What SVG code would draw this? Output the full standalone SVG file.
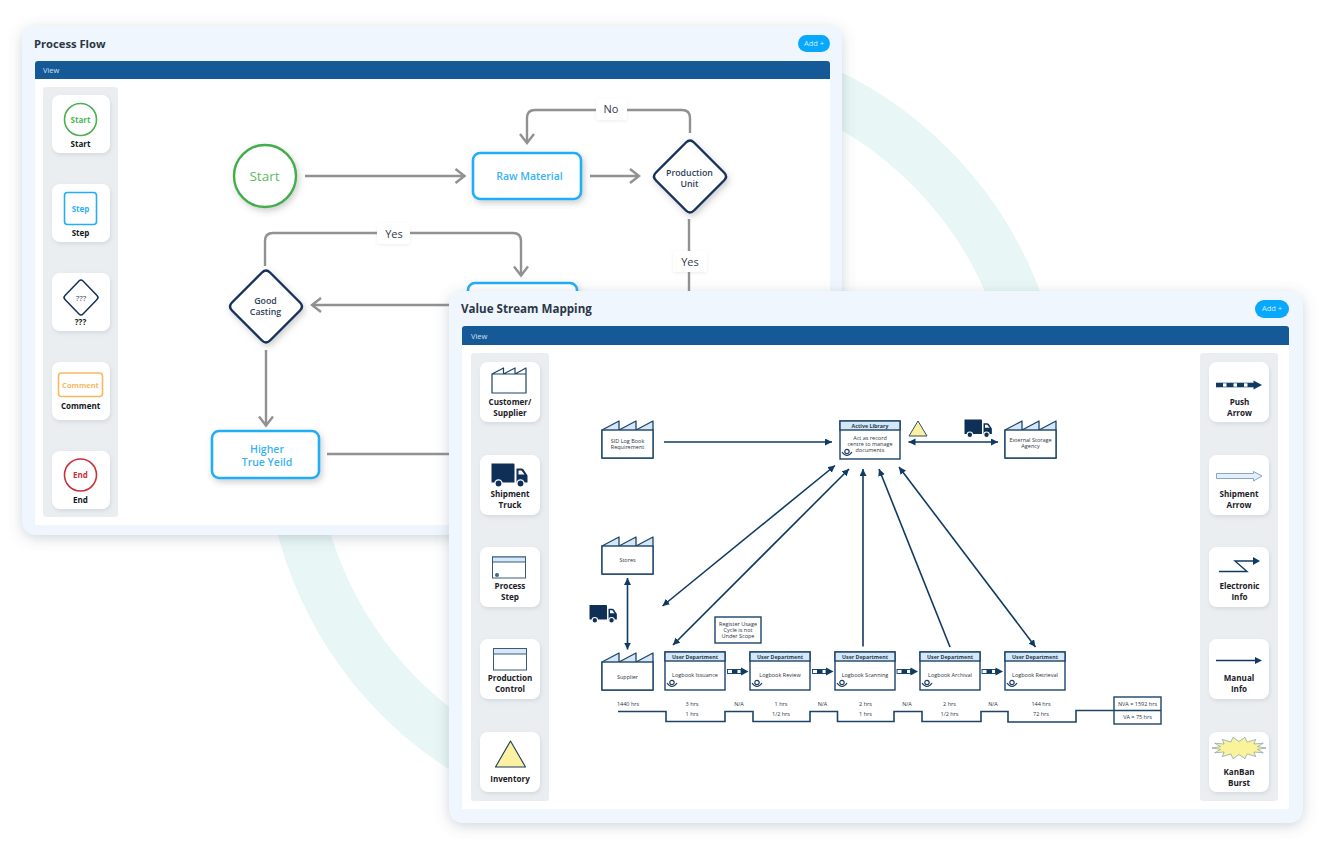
<svg xmlns="http://www.w3.org/2000/svg" width="1324" height="850" viewBox="0 0 1324 850">
<defs>
<clipPath id="ringClip"><rect x="0" y="0" width="1324" height="815"/></clipPath>
<filter id="panelShadow" x="-10%" y="-10%" width="120%" height="120%"><feDropShadow dx="0" dy="3" stdDeviation="7" flood-color="#5a6a7a" flood-opacity="0.28"/></filter>
<filter id="cardShadow" x="-20%" y="-20%" width="140%" height="140%"><feDropShadow dx="1" dy="2" stdDeviation="2" flood-color="#8a9aaa" flood-opacity="0.25"/></filter>
<filter id="labelShadow" x="-20%" y="-20%" width="140%" height="140%"><feDropShadow dx="0" dy="1" stdDeviation="1.500" flood-color="#8a9aaa" flood-opacity="0.18"/></filter>
<filter id="nodeShadow" x="-20%" y="-20%" width="140%" height="140%"><feDropShadow dx="2" dy="3" stdDeviation="3" flood-color="#555" flood-opacity="0.28"/></filter>
<marker id="open" markerWidth="16" markerHeight="18" refX="13" refY="9" orient="auto" markerUnits="userSpaceOnUse"><path d="M4 2 L13 9 L4 16" fill="none" stroke="#919191" stroke-width="2.400"/></marker>
<marker id="solid" markerWidth="8" markerHeight="8" refX="7" refY="3.500" orient="auto-start-reverse" markerUnits="userSpaceOnUse"><path d="M0 0 L7 3.500 L0 7 Z" fill="#0f3a63"/></marker>
<g id="truck"><path d="M0 0H22Q23 0 23 1V19H0Z M25 5H30Q31 5 32 6L36 12V19H25Z" fill="#0f3056"/><circle cx="7" cy="20" r="3.600" fill="#0f3056" stroke="#fff" stroke-width="1.400"/><circle cx="29" cy="20" r="3.600" fill="#0f3056" stroke="#fff" stroke-width="1.400"/><path d="M27 7H30L33 11H27Z" fill="#fff"/></g>
<g id="eye"><circle cx="5" cy="2.500" r="2.200" fill="none" stroke="#1a3c5e" stroke-width="1.200"/><path d="M0 3Q5 10 10 3" fill="none" stroke="#1a3c5e" stroke-width="1.200"/></g>
<g id="pusharrow"><rect x="0" y="-2" width="13.500" height="4" fill="#fff" stroke="#0f3a63" stroke-width="0.900"/><rect x="4.500" y="-2" width="5.500" height="4" fill="#0f3a63"/><path d="M13.500 -4V4L21 0Z" fill="#0f3a63"/></g>
</defs>
<style>
text{font-family:"Open Sans","Noto Sans","Liberation Sans",sans-serif;text-anchor:middle}
.panel{fill:#eff6fd}
.bar{fill:#155a96}
.side{fill:#ebeef1}
.card{fill:#fff;filter:url(#cardShadow)}
.title{font-weight:700;fill:#2c3645;text-anchor:start}
.view{font-size:7.5px;fill:#cfe0ef;text-anchor:start}
.lab{font-size:8px;font-weight:700;fill:#101820}
.cl{font-size:8.1px;font-weight:700;fill:#1a2028}
.addb{fill:#08a8fc}
.addt{font-size:7.5px;fill:#cdeeff}
.conn{fill:none;stroke:#919191;stroke-width:2.400}
.step{fill:#fff;stroke:#22aef5;stroke-width:2.600;filter:url(#nodeShadow)}
.dia{fill:#fff;stroke:#12305a;stroke-width:2.400;stroke-linejoin:round;filter:url(#nodeShadow)}
.nt{fill:#2f4058;font-weight:600}
.bt{fill:#38b2f5;font-weight:600}
.lb{fill:#fff;filter:url(#labelShadow)}
.lbt{font-size:11px;font-weight:500;fill:#2f3a4c}
.ln{fill:none;stroke:#0f3a63;stroke-width:1.600}
.box{fill:#fff;stroke:#1d4468;stroke-width:1.400}
.hd{fill:#d5e8fa;stroke:#1d4468;stroke-width:1.400}
.fac{fill:#d5e8fa;stroke:#1d4468;stroke-width:1.300;stroke-linejoin:round}
.t5{font-size:5.500px;font-weight:500;fill:#2b3440}
.th{font-size:5.300px;font-weight:700;fill:#2a3a4c}
.tl{fill:none;stroke:#1d4468;stroke-width:1.600}
.pi{font-size:8px;font-weight:700}
</style>
<rect width="1324" height="850" fill="#fff"/>
<g id="ring" clip-path="url(#ringClip)"><circle cx="665" cy="432" r="375" fill="none" stroke="#e8f6f5" stroke-width="51"/></g>

<g id="process-flow-panel">
<rect class="panel" x="22" y="26" width="820" height="509" rx="14" filter="url(#panelShadow)"/>
<text class="title" x="34" y="48" font-size="11.200">Process Flow</text>
<rect class="addb" x="798" y="35" width="32" height="17" rx="8.500"/><text class="addt" x="814" y="46">Add  +</text>
<rect x="35" y="79" width="795" height="446" fill="#fff"/>
<path class="bar" d="M35 79V64Q35 61 38 61H827Q830 61 830 64V79Z"/>
<text class="view" x="43" y="73">View</text>
<rect class="side" x="43" y="87" width="75" height="430" rx="3"/>
</g>

<g id="pf-palette">
<g id="pal-start"><rect class="card" x="52" y="95" width="58" height="58" rx="8"/><circle cx="80.500" cy="119.500" r="16" fill="#fff" stroke="#4caf50" stroke-width="1.600"/><text class="pi" x="80.500" y="122.500" fill="#4cb85a">Start</text><text class="lab" x="80.500" y="147">Start</text></g>
<g id="pal-step"><rect class="card" x="52" y="184" width="58" height="58" rx="8"/><rect x="64.500" y="192.500" width="32" height="32" rx="3" fill="#fff" stroke="#22aef5" stroke-width="1.600"/><text class="pi" x="80.500" y="212" fill="#30b0f5">Step</text><text class="lab" x="80.500" y="236">Step</text></g>
<g id="pal-dec"><rect class="card" x="52" y="273" width="58" height="58" rx="8"/><path d="M79 281Q81 279 83 281L97 295.500Q99 297.500 97 299.500L83 314Q81 316 79 314L65 299.500Q63 297.500 65 295.500Z" fill="#fff" stroke="#12305a" stroke-width="1.500" stroke-linejoin="round"/><text x="81" y="300.500" font-size="8" fill="#2f4058">???</text><text class="lab" x="80.500" y="325">???</text></g>
<g id="pal-comment"><rect class="card" x="52" y="362" width="58" height="58" rx="8"/><rect x="58.500" y="373" width="44" height="23.500" rx="3" fill="#fff" stroke="#f5b95f" stroke-width="1.600"/><text x="80.500" y="387.500" font-size="7.500" font-weight="700" fill="#f5b95f">Comment</text><text class="lab" x="80.500" y="409">Comment</text></g>
<g id="pal-end"><rect class="card" x="52" y="451" width="58" height="58" rx="8"/><circle cx="80.500" cy="475" r="16" fill="#fff" stroke="#c8303c" stroke-width="1.600"/><text class="pi" x="80.500" y="478" fill="#c8303c">End</text><text class="lab" x="80.500" y="503">End</text></g>
</g>

<g id="pf-connectors">
<path class="conn" d="M305 176H464.500" marker-end="url(#open)"/>
<path class="conn" d="M590 176H639" marker-end="url(#open)"/>
<path class="conn" d="M690 133V118Q690 110 682 110H535Q527 110 527 118V143" marker-end="url(#open)"/>
<path class="conn" d="M689 219V300"/>
<path class="conn" d="M265 266V241Q265 233 273 233H513Q521 233 521 241V275.500" marker-end="url(#open)"/>
<path class="conn" d="M460 305H312" marker-end="url(#open)"/>
<path class="conn" d="M266 350V425.500" marker-end="url(#open)"/>
<path class="conn" d="M327 454H460"/>
</g>

<g id="pf-labels">
<g id="lb-no"><rect class="lb" x="596" y="99" width="31" height="21" rx="3"/><text class="lbt" x="611" y="113">No</text></g>
<g id="lb-yes1"><rect class="lb" x="673" y="251" width="34" height="21" rx="3"/><text class="lbt" x="690" y="265.500">Yes</text></g>
<g id="lb-yes2"><rect class="lb" x="377" y="223" width="33" height="21" rx="3"/><text class="lbt" x="394" y="237.500">Yes</text></g>
</g>

<g id="pf-start"><circle cx="265" cy="176" r="31" fill="#fff" stroke="#43ad4b" stroke-width="2.400" filter="url(#nodeShadow)"/><text x="264.500" y="181" font-size="13.500" font-weight="500" fill="#5cbb63">Start</text></g>
<g id="pf-raw"><rect class="step" x="473" y="153" width="108" height="46" rx="7"/><text class="bt" x="529.500" y="180" font-size="10.500">Raw Material</text></g>
<g id="pf-prod"><path class="dia" d="M686 142.500Q690 138.500 694 142.500L724 172.500Q728 176.500 724 180.500L694 210.500Q690 214.500 686 210.500L656 180.500Q652 176.500 656 172.500Z"/><text class="nt" font-size="8.800" x="689.500" y="176">Production</text><text class="nt" font-size="8.800" x="689.500" y="186.500">Unit</text></g>
<g id="pf-casting"><path class="dia" d="M262 272.500Q266 268.500 270 272.500L300 302.500Q304 306.500 300 310.500L270 340.500Q266 344.500 262 340.500L232 310.500Q228 306.500 232 302.500Z"/><text class="nt" font-size="8.800" x="265.500" y="304">Good</text><text class="nt" font-size="8.800" x="265.500" y="314.500">Casting</text></g>
<g id="pf-hidden"><rect class="step" x="468" y="283" width="109" height="46" rx="7"/></g>
<g id="pf-higher"><rect class="step" x="212" y="431" width="107" height="47" rx="7"/><text class="bt" x="267" y="453" font-size="10.500">Higher</text><text class="bt" x="267" y="465.500" font-size="10.500">True Yeild</text></g>

<g id="vsm-panel">
<rect class="panel" x="449" y="291" width="854" height="532" rx="14" filter="url(#panelShadow)"/>
<text class="title" x="461" y="313" font-size="11.600">Value Stream Mapping</text>
<rect class="addb" x="1255" y="300" width="34" height="18" rx="9"/><text class="addt" x="1272" y="311">Add  +</text>
<rect x="462" y="345" width="827" height="464" fill="#fff"/>
<path class="bar" d="M462 345V329Q462 326 465 326H1286Q1289 326 1289 329V345Z"/>
<text class="view" x="471" y="339">View</text>
<rect class="side" x="471" y="353" width="78" height="448" rx="3"/>
<rect class="side" x="1200" y="353" width="78" height="448" rx="3"/>
</g>

<g id="vsm-palette-left">
<g id="p-customer"><rect class="card" x="480" y="362" width="60" height="60" rx="8"/><path d="M492 393V374L503.500 368V374L515 368V374L526 368V393ZM492 374H526" fill="#fff" stroke="#1d4468" stroke-width="1.200" stroke-linejoin="round"/><text class="cl" x="510" y="405">Customer/</text><text class="cl" x="510" y="416">Supplier</text></g>
<g id="p-truck"><rect class="card" x="480" y="455" width="60" height="60" rx="8"/><use href="#truck" x="491.500" y="463.500"/><text class="cl" x="510" y="497">Shipment</text><text class="cl" x="510" y="508">Truck</text></g>
<g id="p-process"><rect class="card" x="480" y="547" width="60" height="60" rx="8"/><rect x="492.500" y="557" width="33" height="21" fill="#fff" stroke="#3a5a7a" stroke-width="1"/><rect x="492.500" y="557" width="33" height="5" fill="#d5e8fa" stroke="#3a5a7a" stroke-width="1"/><circle cx="497" cy="575" r="2" fill="#3a6a90"/><text class="cl" x="510" y="589">Process</text><text class="cl" x="510" y="600">Step</text></g>
<g id="p-control"><rect class="card" x="480" y="639" width="60" height="60" rx="8"/><rect x="493.500" y="648.500" width="33" height="21.500" fill="#fff" stroke="#3a5a7a" stroke-width="1"/><rect x="493.500" y="648.500" width="33" height="5.500" fill="#d5e8fa" stroke="#3a5a7a" stroke-width="1"/><text class="cl" x="510" y="680.500">Production</text><text class="cl" x="510" y="691.500">Control</text></g>
<g id="p-inventory"><rect class="card" x="480" y="732" width="60" height="60" rx="8"/><path d="M510.500 741L525.500 767H495.500Z" fill="#fbf1a0" stroke="#1d3a5a" stroke-width="1.100" stroke-linejoin="round"/><text class="cl" x="510" y="781.500">Inventory</text></g>
</g>

<g id="vsm-palette-right">
<g id="p-push"><rect class="card" x="1209" y="362" width="60" height="60" rx="8"/><rect x="1216.500" y="383" width="37" height="4" fill="#fff" stroke="#0f3a63" stroke-width="0.600"/><path d="M1216 385H1254" stroke="#0f3a63" stroke-width="4" stroke-dasharray="7 3.500" fill="none"/><path d="M1253.500 380.500V389.500L1262 385Z" fill="#0f3a63"/><text class="cl" x="1239.500" y="404.500">Push</text><text class="cl" x="1239.500" y="415.500">Arrow</text></g>
<g id="p-ship"><rect class="card" x="1209" y="455" width="60" height="60" rx="8"/><path d="M1216.500 473.500H1253.500V471.500L1262 476 1253.500 481V478.500H1216.500Z" fill="#e3eff9" stroke="#7a9dbd" stroke-width="0.900"/><text class="cl" x="1239" y="497">Shipment</text><text class="cl" x="1239" y="508">Arrow</text></g>
<g id="p-elec"><rect class="card" x="1209" y="547" width="60" height="60" rx="8"/><path d="M1219 571.500H1247L1235 561H1254" fill="none" stroke="#0f3a63" stroke-width="1.400"/><path d="M1253 557V565L1260 561Z" fill="#0f3a63"/><text class="cl" x="1239.500" y="589">Electronic</text><text class="cl" x="1239.500" y="600">Info</text></g>
<g id="p-manual"><rect class="card" x="1209" y="639" width="60" height="60" rx="8"/><path d="M1216 660.500H1256" stroke="#0f3a63" stroke-width="1.400"/><path d="M1255 657V664L1262 660.500Z" fill="#0f3a63"/><text class="cl" x="1239" y="680.500">Manual</text><text class="cl" x="1239" y="691.500">Info</text></g>
<g id="p-burst"><rect class="card" x="1209" y="732" width="60" height="60" rx="8"/><path d="M1266 748L1257.500 749.400 1263.300 752.800 1253.900 752 1255.800 756.600 1247.200 753.900 1245 758.700 1239 754.500 1233 758.700 1230.800 753.900 1222.200 756.600 1224.100 752 1214.700 752.800 1220.500 749.400 1212 748 1220.500 746.600 1214.700 743.200 1224.100 744 1222.200 739.400 1230.800 742.100 1233 737.300 1239 741.500 1245 737.300 1247.200 742.100 1255.800 739.400 1253.900 744 1263.300 743.200 1257.500 746.600Z" fill="#fbf39c" stroke="#6f8da0" stroke-width="0.600"/><text class="cl" x="1239" y="774.500">KanBan</text><text class="cl" x="1239" y="785.500">Burst</text></g>
</g>

<g id="vsm-connectors">
<path class="ln" d="M664 442H832" marker-end="url(#solid)"/>
<path class="ln" d="M908.500 442H998" marker-start="url(#solid)" marker-end="url(#solid)"/>
<path class="ln" d="M627.500 578V649.500" marker-start="url(#solid)" marker-end="url(#solid)"/>
<path class="ln" d="M662.500 606L835 465.500" marker-start="url(#solid)" marker-end="url(#solid)"/>
<path class="ln" d="M673 645L849 469" marker-start="url(#solid)" marker-end="url(#solid)"/>
<path class="ln" d="M863 646.500V469" marker-end="url(#solid)"/>
<path class="ln" d="M950 647L879 469" marker-end="url(#solid)"/>
<path class="ln" d="M1035.500 647L899 467" marker-start="url(#solid)" marker-end="url(#solid)"/>
</g>

<g id="n-sid"><path class="fac" d="M602 430L619 421V430L636 421V430L653 421V458H602Z"/><rect class="box" x="602" y="430" width="51" height="28"/><text class="t5" x="627.500" y="443">SID Log Book</text><text class="t5" x="627.500" y="449">Requirement</text></g>
<g id="n-stores"><path class="fac" d="M602 546L619 537V546L636 537V546L653 537V574H602Z"/><rect class="box" x="602" y="546" width="51" height="28"/><text class="t5" x="627.500" y="562">Stores</text></g>
<g id="n-supplier"><path class="fac" d="M602 662L619 653V662L636 653V662L653 653V690H602Z"/><rect class="box" x="602" y="662" width="51" height="28"/><text class="t5" x="627.500" y="678.500">Supplier</text></g>
<g id="n-ext"><path class="fac" d="M1005 430L1022 421V430L1039 421V430L1056 421V458H1005Z"/><rect class="box" x="1005" y="430" width="51" height="28"/><text class="t5" x="1030.500" y="442">External Storage</text><text class="t5" x="1030.500" y="448">Agency</text></g>
<g id="n-library"><rect class="box" x="840" y="421" width="60" height="38"/><rect class="hd" x="840" y="421" width="60" height="9"/><text class="th" x="870" y="428">Active Library</text><text class="t5" x="870" y="440">Act as record</text><text class="t5" x="870" y="446">centre to manage</text><text class="t5" x="870" y="452">documents</text><use href="#eye" x="842" y="449"/></g>
<g id="n-inv"><path d="M918 421L927 436H909Z" fill="#fbf1a0" stroke="#1d3a5a" stroke-width="0.900" stroke-linejoin="round"/></g>
<use id="n-truck1" href="#truck" transform="translate(964.500 419.500) scale(0.76)"/>
<use id="n-truck2" href="#truck" transform="translate(589.500 605) scale(0.76)"/>
<g id="n-note"><rect class="box" x="715" y="617" width="46" height="26"/><text class="t5" x="738" y="625.500">Register Usage</text><text class="t5" x="738" y="631.500">Cycle is not</text><text class="t5" x="738" y="638">Under Scope</text></g>

<g id="n-issue"><rect class="box" x="665" y="652" width="60" height="38"/><rect class="hd" x="665" y="652" width="60" height="9"/><text class="th" x="695" y="659">User Department</text><text class="t5" x="695" y="676.500">Logbook Issuance</text><use href="#eye" x="667" y="680"/></g>
<g id="n-review"><rect class="box" x="750" y="652" width="60" height="38"/><rect class="hd" x="750" y="652" width="60" height="9"/><text class="th" x="780" y="659">User Department</text><text class="t5" x="780" y="676.500">Logbook Review</text><use href="#eye" x="752" y="680"/></g>
<g id="n-scan"><rect class="box" x="835" y="652" width="60" height="38"/><rect class="hd" x="835" y="652" width="60" height="9"/><text class="th" x="865" y="659">User Department</text><text class="t5" x="865" y="676.500">Logbook Scanning</text><use href="#eye" x="837" y="680"/></g>
<g id="n-arch"><rect class="box" x="920" y="652" width="60" height="38"/><rect class="hd" x="920" y="652" width="60" height="9"/><text class="th" x="950" y="659">User Department</text><text class="t5" x="950" y="676.500">Logbook Archival</text><use href="#eye" x="922" y="680"/></g>
<g id="n-retr"><rect class="box" x="1005" y="652" width="60" height="38"/><rect class="hd" x="1005" y="652" width="60" height="9"/><text class="th" x="1035" y="659">User Department</text><text class="t5" x="1035" y="676.500">Logbook Retrieval</text><use href="#eye" x="1007" y="680"/></g>

<g id="push-arrows">
<use href="#pusharrow" x="727.500" y="671.500"/><use href="#pusharrow" x="812.500" y="671.500"/><use href="#pusharrow" x="897" y="671.500"/><use href="#pusharrow" x="982" y="671.500"/>
</g>

<g id="timeline">
<path class="tl" d="M618 711.500H666V721.500H725V711.500H753V721.500H810V711.500H837.500V721.500H894V711.500H922V721.500H981V711.500H1008V722H1076V710.500H1114"/>
<g class="t5">
<text x="628" y="705.500">1440 hrs</text><text x="692" y="705.500">3 hrs</text><text x="692" y="715.500">1 hrs</text><text x="739" y="705.500">N/A</text><text x="781" y="705.500">1 hrs</text><text x="781" y="715.500">1/2 hrs</text><text x="822.500" y="705.500">N/A</text><text x="865.500" y="705.500">2 hrs</text><text x="865.500" y="715.500">1 hrs</text><text x="907" y="705.500">N/A</text><text x="949.500" y="705.500">2 hrs</text><text x="949.500" y="715.500">1/2  hrs</text><text x="993" y="705.500">N/A</text><text x="1041" y="705.500">144 hrs</text><text x="1041" y="715.500">72 hrs</text>
</g>
<rect class="box" x="1114" y="697" width="47" height="27"/><path class="tl" d="M1114 710.500H1161"/>
<text class="t5" x="1137.500" y="705.500">NVA = 1592 hrs</text><text class="t5" x="1137.500" y="719">VA = 75 hrs</text>
</g>
</svg>
